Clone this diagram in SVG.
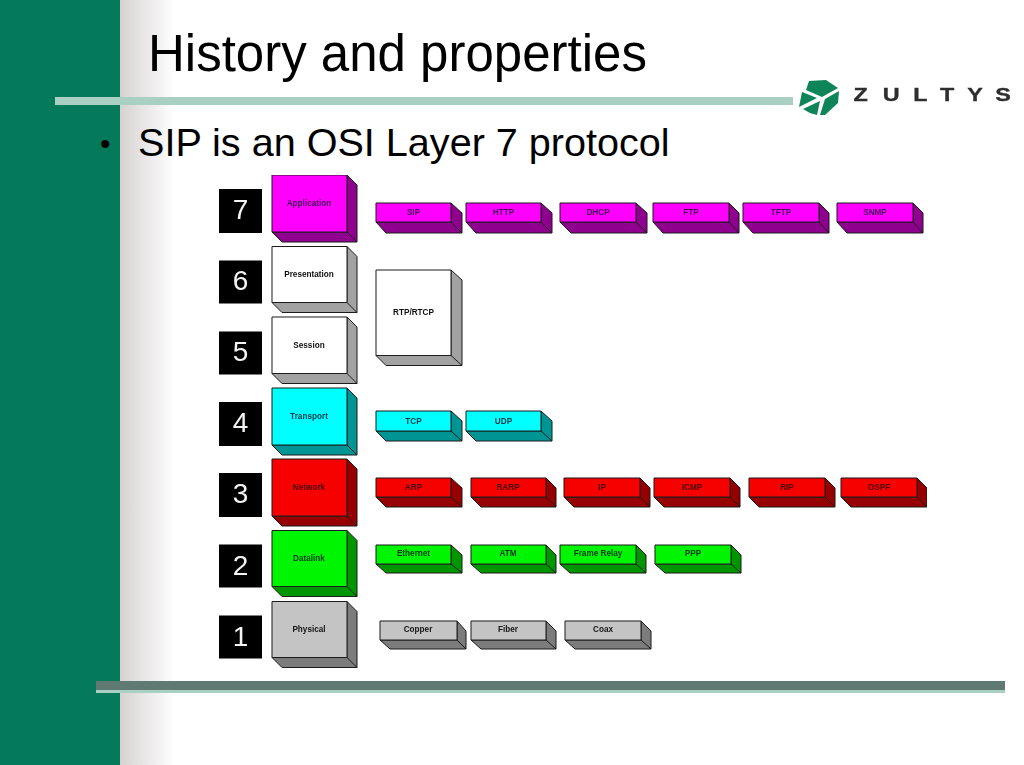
<svg xmlns="http://www.w3.org/2000/svg" width="1024" height="765" viewBox="0 0 1024 765">
<style>
text{font-family:"Liberation Sans",Arial,sans-serif}
.h{font-size:51px;fill:#000}
.b{font-size:39.600px;fill:#000}
.d{font-size:30px;fill:#000}
.n{font-size:28px;fill:#f4f4f4;text-anchor:middle}
.l{font-size:8.200px;font-weight:bold;text-anchor:middle}
.z{font-size:18px;font-weight:bold;fill:#2e2e2e;stroke:#2e2e2e;stroke-width:.3}
.e{stroke:#1c1c1c;stroke-width:1;stroke-linejoin:round}
.num{fill:#000}
.m .f{fill:#f0f}.m .s{fill:#90008f}.m .l{fill:#46005c}
.w .f{fill:#fff}.w .s{fill:#a2a2a2}.w .l{fill:#111}
.c .f{fill:#0ff}.c .s{fill:#009494}.c .l{fill:#063a48}
.r .f{fill:#f70000}.r .s{fill:#960000}.r .l{fill:#4a0008}
.g .f{fill:#00f500}.g .s{fill:#009600}.g .l{fill:#043a18}
.y .f{fill:#c4c4c4}.y .s{fill:#7c7c7c}.y .l{fill:#151515}
</style>
<defs>
<linearGradient id="shade" x1="0" x2="1" y1="0" y2="0"><stop offset="0" stop-color="#d6d2d2"/><stop offset="1" stop-color="#fff"/></linearGradient>
<filter id="soft" x="0" y="0" width="1" height="1"><feGaussianBlur stdDeviation="0.35"/></filter>
<filter id="softer" x="-.05" y="-.2" width="1.100" height="1.400"><feGaussianBlur stdDeviation="0.6"/></filter>
</defs>
<rect width="1024" height="765" fill="#fff"/>
<rect x="120" y="0" width="55" height="765" fill="url(#shade)"/>
<rect x="0" y="0" width="120" height="765" fill="#057a5a"/>
<rect x="55" y="97" width="738" height="8" fill="#a9d0c3"/>
<rect x="96" y="681" width="909" height="9" fill="#5f7a72"/>
<rect x="96" y="690" width="909" height="3" fill="#a9d0c3"/>
<g id="logo" filter="url(#softer)">
<polygon points="809,81 826,80 838,88 822,97 806,90" fill="#0b8558"/>
<polygon points="802,92 817,98 799,107" fill="#0b8558"/>
<polygon points="825,99 839,91 838,103 825,115 820,115" fill="#0b8558"/>
<polygon points="803,109 820,101 817,115 810,113" fill="#0b8558"/>
<text class="z" transform="scale(1.300 1)" x="656.500 679 702.500 723 744 765.500" y="101">ZULTYS</text>
</g>
<text class="h" x="148" y="71">History and properties</text>
<text class="d" x="100" y="154">•</text>
<text class="b" x="138" y="156">SIP is an OSI Layer 7 protocol</text>
<g filter="url(#soft)">
<g id="n7"><rect class="num" x="219" y="189" width="43" height="44"/><text class="n" x="240.500" y="218.500">7</text></g>
<g id="n6"><rect class="num" x="219" y="260.500" width="43" height="43"/><text class="n" x="240.500" y="290">6</text></g>
<g id="n5"><rect class="num" x="219" y="331.500" width="43" height="43"/><text class="n" x="240.500" y="361">5</text></g>
<g id="n4"><rect class="num" x="219" y="402" width="43" height="44"/><text class="n" x="240.500" y="432">4</text></g>
<g id="n3"><rect class="num" x="219" y="473" width="43" height="44"/><text class="n" x="240.500" y="503">3</text></g>
<g id="n2"><rect class="num" x="219" y="544.500" width="43" height="43"/><text class="n" x="240.500" y="575">2</text></g>
<g id="n1"><rect class="num" x="219" y="615.500" width="43" height="43"/><text class="n" x="240.500" y="646">1</text></g>

<g id="application" class="m"><path class="e s" d="M347 175L357 185V242H282L272 232H347Z"/><path class="e" d="M347 232L357 242" fill="none"/><rect class="e f" x="272" y="175" width="75" height="57"/><text class="l" x="309" y="206">Application</text></g>
<g id="presentation" class="w"><path class="e s" d="M347 246.500L357 256.500V312.500H282L272 302.500H347Z"/><path class="e" d="M347 302.500L357 312.500" fill="none"/><rect class="e f" x="272" y="246.500" width="75" height="56"/><text class="l" x="309" y="277">Presentation</text></g>
<g id="session" class="w"><path class="e s" d="M347 317L357 327V383.500H282L272 373.500H347Z"/><path class="e" d="M347 373.500L357 383.500" fill="none"/><rect class="e f" x="272" y="317" width="75" height="56.500"/><text class="l" x="309" y="348">Session</text></g>
<g id="transport" class="c"><path class="e s" d="M347 388L357 398V455H282L272 445H347Z"/><path class="e" d="M347 445L357 455" fill="none"/><rect class="e f" x="272" y="388" width="75" height="57"/><text class="l" x="309" y="419">Transport</text></g>
<g id="network" class="r"><path class="e s" d="M347 459L357 469V526H282L272 516H347Z"/><path class="e" d="M347 516L357 526" fill="none"/><rect class="e f" x="272" y="459" width="75" height="57"/><text class="l" x="309" y="490">Network</text></g>
<g id="datalink" class="g"><path class="e s" d="M347 530.500L357 540.500V596.500H282L272 586.500H347Z"/><path class="e" d="M347 586.500L357 596.500" fill="none"/><rect class="e f" x="272" y="530.500" width="75" height="56"/><text class="l" x="309" y="561">Datalink</text></g>
<g id="physical" class="y"><path class="e s" d="M347 601.500L357 611.500V667.500H282L272 657.500H347Z"/><path class="e" d="M347 657.500L357 667.500" fill="none"/><rect class="e f" x="272" y="601.500" width="75" height="56"/><text class="l" x="309" y="632">Physical</text></g>

<g id="sip" class="m"><path class="e s" d="M451 203L462 213V233H386L376 222H451Z"/><path class="e" d="M451 222L462 233" fill="none"/><rect class="e f" x="376" y="203" width="75" height="19"/><text class="l" x="413.500" y="215">SIP</text></g>
<g id="http" class="m"><path class="e s" d="M541 203L552 213V233H476L466 222H541Z"/><path class="e" d="M541 222L552 233" fill="none"/><rect class="e f" x="466" y="203" width="75" height="19"/><text class="l" x="503.500" y="215">HTTP</text></g>
<g id="dhcp" class="m"><path class="e s" d="M636 203L647 213V233H571L560 222H636Z"/><path class="e" d="M636 222L647 233" fill="none"/><rect class="e f" x="560" y="203" width="76" height="19"/><text class="l" x="598" y="215">DHCP</text></g>
<g id="ftp" class="m"><path class="e s" d="M729 203L739 213V233H663L653 222H729Z"/><path class="e" d="M729 222L739 233" fill="none"/><rect class="e f" x="653" y="203" width="76" height="19"/><text class="l" x="691" y="215">FTP</text></g>
<g id="tftp" class="m"><path class="e s" d="M819 203L829 213V233H753L743 222H819Z"/><path class="e" d="M819 222L829 233" fill="none"/><rect class="e f" x="743" y="203" width="76" height="19"/><text class="l" x="781" y="215">TFTP</text></g>
<g id="snmp" class="m"><path class="e s" d="M913 203L923 213V233H847L837 222H913Z"/><path class="e" d="M913 222L923 233" fill="none"/><rect class="e f" x="837" y="203" width="76" height="19"/><text class="l" x="875" y="215">SNMP</text></g>

<g id="rtp" class="w"><path class="e s" d="M451 270L462 280V365.500H386L376 355.500H451Z"/><path class="e" d="M451 355.500L462 365.500" fill="none"/><rect class="e f" x="376" y="270" width="75" height="85.500"/><text class="l" x="413.500" y="315">RTP/RTCP</text></g>

<g id="tcp" class="c"><path class="e s" d="M451 411L462 421V441H386L376 431H451Z"/><path class="e" d="M451 431L462 441" fill="none"/><rect class="e f" x="376" y="411" width="75" height="20"/><text class="l" x="413.500" y="424">TCP</text></g>
<g id="udp" class="c"><path class="e s" d="M541 411L552 421V441H476L466 431H541Z"/><path class="e" d="M541 431L552 441" fill="none"/><rect class="e f" x="466" y="411" width="75" height="20"/><text class="l" x="503.500" y="424">UDP</text></g>

<g id="arp" class="r"><path class="e s" d="M451 478L462 488V507H386L376 497H451Z"/><path class="e" d="M451 497L462 507" fill="none"/><rect class="e f" x="376" y="478" width="75" height="19"/><text class="l" x="413.500" y="490">ARP</text></g>
<g id="rarp" class="r"><path class="e s" d="M546 478L556 488V507H481L471 497H546Z"/><path class="e" d="M546 497L556 507" fill="none"/><rect class="e f" x="471" y="478" width="75" height="19"/><text class="l" x="508" y="490">RARP</text></g>
<g id="ip" class="r"><path class="e s" d="M640 478L650 488V507H574L564 497H640Z"/><path class="e" d="M640 497L650 507" fill="none"/><rect class="e f" x="564" y="478" width="76" height="19"/><text class="l" x="602" y="490">IP</text></g>
<g id="icmp" class="r"><path class="e s" d="M730 478L740 488V507H664L654 497H730Z"/><path class="e" d="M730 497L740 507" fill="none"/><rect class="e f" x="654" y="478" width="76" height="19"/><text class="l" x="692" y="490">ICMP</text></g>
<g id="rip" class="r"><path class="e s" d="M825 478L835 488V507H759L749 497H825Z"/><path class="e" d="M825 497L835 507" fill="none"/><rect class="e f" x="749" y="478" width="76" height="19"/><text class="l" x="787" y="490">RIP</text></g>
<g id="ospf" class="r"><path class="e s" d="M917 478L927 488V507H851L841 497H917Z"/><path class="e" d="M917 497L927 507" fill="none"/><rect class="e f" x="841" y="478" width="76" height="19"/><text class="l" x="879" y="490">OSPF</text></g>

<g id="ethernet" class="g"><path class="e s" d="M451 545L462 555V573H386L376 564H451Z"/><path class="e" d="M451 564L462 573" fill="none"/><rect class="e f" x="376" y="545" width="75" height="19"/><text class="l" x="413.500" y="556">Ethernet</text></g>
<g id="atm" class="g"><path class="e s" d="M546 545L556 555V573H481L471 564H546Z"/><path class="e" d="M546 564L556 573" fill="none"/><rect class="e f" x="471" y="545" width="75" height="19"/><text class="l" x="508" y="556">ATM</text></g>
<g id="framerelay" class="g"><path class="e s" d="M636 545L646 555V573H570L560 564H636Z"/><path class="e" d="M636 564L646 573" fill="none"/><rect class="e f" x="560" y="545" width="76" height="19"/><text class="l" x="598" y="556">Frame Relay</text></g>
<g id="ppp" class="g"><path class="e s" d="M731 545L741 555V573H665L655 564H731Z"/><path class="e" d="M731 564L741 573" fill="none"/><rect class="e f" x="655" y="545" width="76" height="19"/><text class="l" x="693" y="556">PPP</text></g>

<g id="copper" class="y"><path class="e s" d="M457 621L466 631V649H390L380 640H457Z"/><path class="e" d="M457 640L466 649" fill="none"/><rect class="e f" x="380" y="621" width="77" height="19"/><text class="l" x="418" y="632">Copper</text></g>
<g id="fiber" class="y"><path class="e s" d="M546 621L556 631V649H481L471 640H546Z"/><path class="e" d="M546 640L556 649" fill="none"/><rect class="e f" x="471" y="621" width="75" height="19"/><text class="l" x="508" y="632">Fiber</text></g>
<g id="coax" class="y"><path class="e s" d="M641 621L651 631V649H575L565 640H641Z"/><path class="e" d="M641 640L651 649" fill="none"/><rect class="e f" x="565" y="621" width="76" height="19"/><text class="l" x="603" y="632">Coax</text></g>
</g>
</svg>
